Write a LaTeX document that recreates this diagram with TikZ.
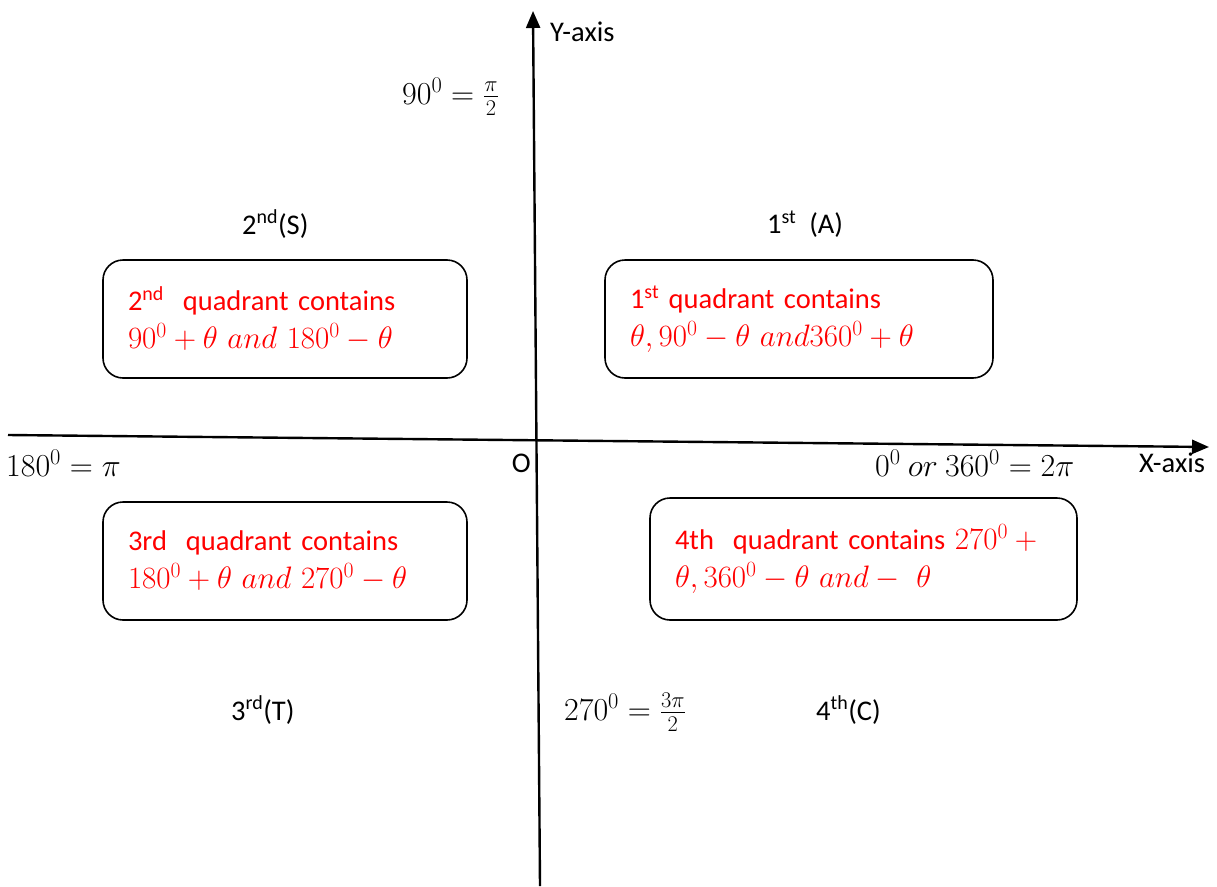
\RequirePackage{fix-cm}
\documentclass[tikz,border=0pt]{standalone}
\usepackage{fontspec}
\setmainfont{Carlito}
\usetikzlibrary{arrows.meta}
\newcommand{\qmath}[1]{{\fontsize{31}{38}\selectfont$#1$}}
\begin{document}
\begin{tikzpicture}[x=1pt,y=-1pt,
  lbl/.style={font=\fontsize{28.5}{32}\selectfont, inner sep=0pt},
  mlbl/.style={font=\fontsize{32}{36}\selectfont, inner sep=0pt},
  axis/.style={line width=2.4pt, -{Triangle[length=17pt,width=14pt]}},
  qbox/.style={draw, line width=1.6pt, rounded corners=20pt, text=red,
    font=\fontsize{28.5}{38}\selectfont, align=left, inner xsep=25pt, inner ysep=0pt,
    minimum height=118pt}
]
\useasboundingbox (0,0) rectangle (1217,886);
% axes
\coordinate (yb) at (540,886);
\coordinate (yt) at (533,11);
\coordinate (xl) at (8,435);
\coordinate (xr) at (1209,447);
\draw[axis] (yb) -- (yt);
\draw[axis] (xl) -- (xr);
% axis labels
\node[lbl, anchor=west] (ylab) at (550,32) {Y-axis};
\node[lbl, anchor=west] (xlab) at (1139,463) {X-axis};
\node[lbl, anchor=east] (o) at (531,463) {O};
\node[mlbl, anchor=west] (a90) at (402,97) {$90^0=\frac{\pi}{2}$};
\node[mlbl, anchor=west] (a180) at (6,463) {$180^0=\pi$};
\node[mlbl, anchor=west] (a0) at (875,463) {$0^0\ or\ 360^0=2\pi$};
\node[mlbl, anchor=west] (a270) at (564,712) {$270^0=\frac{3\pi}{2}$};
% quadrant labels
\node[lbl, anchor=west] (q2) at (242,224) {2\textsuperscript{nd}(S)};
\node[lbl, anchor=west] (q1) at (767,224) {1\textsuperscript{st}\ \ (A)};
\node[lbl, anchor=west] (q3) at (231,710) {3\textsuperscript{rd}(T)};
\node[lbl, anchor=west] (q4) at (816,710) {4\textsuperscript{th}(C)};
% boxes
\node[qbox, text width=314pt] (b2) at (285,319)
  {2\textsuperscript{nd}\ \ quadrant contains\\ \qmath{90^0+\theta\ and\ 180^0-\theta}};
\node[qbox, text width=338pt] (b1) at (799,319)
  {1\textsuperscript{st} quadrant contains\\ \qmath{\theta, 90^0-\theta\ and 360^0+\theta}};
\node[qbox, text width=314pt] (b3) at (285,561)
  {3rd\ \ quadrant contains\\ \qmath{180^0+\theta\ and\ 270^0-\theta}};
\node[qbox, text width=377pt, minimum height=122pt] (b4) at (863.5,559)
  {4th\ \ quadrant contains \qmath{270^0+{}}\\ \qmath{\theta, 360^0-\theta\ and-\ \theta}};
\end{tikzpicture}
\end{document}
